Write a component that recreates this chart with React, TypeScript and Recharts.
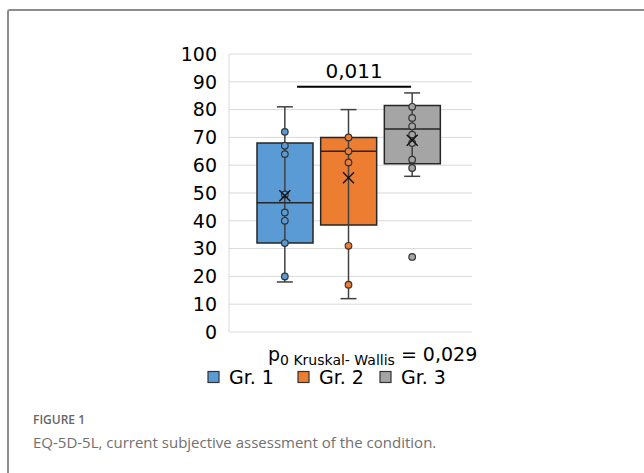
import React from 'react';
import {
  Bar,
  CartesianGrid,
  Cell,
  ComposedChart,
  ErrorBar,
  ReferenceDot,
  Scatter,
  XAxis,
  YAxis,
} from 'recharts';

// EQ-5D-5L box plot, three groups
const groups = ['Gr. 1', 'Gr. 2', 'Gr. 3'];
const colors = ['#5b9bd5', '#ed7d31', '#a5a5a5'];
const whiskerLow = [18, 12, 56];
const q1 = [32, 38.5, 60.5];
const median = [46.5, 65, 73];
const q3 = [68, 70, 81.5];
const whiskerHigh = [81, 80, 86];
const means = [49, 55.5, 69];
const gr1Points = [72, 67, 64, 49.5, 43, 40, 32, 20];
const gr2Points = [70, 65, 61, 31, 17];
const gr3Points = [81, 77, 74, 71, 68, 62, 59, 27];
const yTicks = [0, 10, 20, 30, 40, 50, 60, 70, 80, 90, 100];
// significance bracket between Gr. 1 and Gr. 3 (x in group units, 1 = Gr. 1 centre)
const bracketX = [1.192, 2.982];
const bracketValue = 88.2;
const bracketLabel = '0,011';

const font = '"DejaVu Sans", Arial, sans-serif';
const ink = '#262626';

const rows = groups.map((g, i) => ({
  g,
  box: [q1[i], q3[i]],
  med: median[i],
  mean: means[i],
  whisk: [median[i] - whiskerLow[i], whiskerHigh[i] - median[i]],
}));

const pointSets = [gr1Points, gr2Points, gr3Points].map((pts, i) =>
  pts.map((v) => ({ g: groups[i], v })),
);

const bracket = bracketX.map((x) => ({ x, y: bracketValue }));

const MedianLine = (props: any) => {
  const { cx, cy } = props;
  return <line x1={cx - 28} x2={cx + 28} y1={cy} y2={cy} stroke={ink} strokeWidth={1.5} />;
};

const MeanCross = (props: any) => {
  const { cx, cy } = props;
  const s = 5.5;
  return (
    <g stroke="#111" strokeWidth={1.4}>
      <line x1={cx - s} y1={cy - s} x2={cx + s} y2={cy + s} />
      <line x1={cx - s} y1={cy + s} x2={cx + s} y2={cy - s} />
    </g>
  );
};

const Hidden = () => <g />;

const legendX = [208, 298, 380];

const App = () => (
  <div style={{ position: 'relative', width: 644, height: 473, overflow: 'hidden', background: '#fff' }}>
    <style>{'body{margin:0}'}</style>
    <div
      style={{
        position: 'absolute',
        left: 7,
        top: 9,
        width: 700,
        height: 500,
        borderTop: '2px solid #8c8c8c',
        borderLeft: '2px solid #8c8c8c',
        borderTopLeftRadius: 3,
      }}
    />
    <div style={{ position: 'absolute', left: 0, top: 0 }}>
      <ComposedChart
        width={644}
        height={473}
        data={rows}
        margin={{ top: 54, right: 172, bottom: 141, left: 169 }}
      >
        <CartesianGrid vertical={false} stroke="#d9d9d9" />
        <XAxis
          dataKey="g"
          type="category"
          allowDuplicatedCategory={false}
          padding={{ left: 24, right: 28 }}
          hide
        />
        <XAxis xAxisId="num" dataKey="x" type="number" domain={[0.1236, 3.939]} allowDataOverflow hide />
        <YAxis
          domain={[0, 100]}
          ticks={yTicks}
          interval={0}
          width={60}
          tickLine={false}
          tickMargin={6}
          axisLine={{ stroke: '#d9d9d9' }}
          tick={{ fontSize: 19, fontFamily: font, fill: '#000' }}
        />
        <Scatter dataKey="med" shape={<Hidden />} isAnimationActive={false}>
          <ErrorBar dataKey="whisk" direction="y" width={8} stroke="#404040" strokeWidth={1.5} />
        </Scatter>
        <Bar dataKey="box" barSize={56} stroke={ink} strokeWidth={1.5} isAnimationActive={false}>
          {rows.map((r, i) => (
            <Cell key={r.g} fill={colors[i]} />
          ))}
        </Bar>
        <Scatter dataKey="med" shape={<MedianLine />} isAnimationActive={false} />
        {pointSets.map((pts, i) => (
          <Scatter
            key={groups[i]}
            data={pts}
            dataKey="v"
            fill={colors[i]}
            shape={(p: any) => (
              <circle cx={p.cx} cy={p.cy} r={3.3} fill={colors[i]} stroke="#333" strokeWidth={1.2} />
            )}
            isAnimationActive={false}
          />
        ))}
        <Scatter dataKey="mean" shape={<MeanCross />} isAnimationActive={false} />
        <Scatter
          xAxisId="num"
          data={bracket}
          dataKey="y"
          line={{ stroke: '#000', strokeWidth: 2 }}
          shape={<Hidden />}
          isAnimationActive={false}
        />
        <ReferenceDot
          xAxisId="num"
          x={(bracketX[0] + bracketX[1]) / 2}
          y={bracketValue}
          r={0}
          fill="none"
          stroke="none"
          label={{ value: bracketLabel, position: 'top', offset: 9, fill: '#000', fontSize: 20, fontFamily: font }}
        />
      </ComposedChart>
    </div>
    <svg width={644} height={473} style={{ position: 'absolute', left: 0, top: 0, pointerEvents: 'none' }}>
      <text x={268} y={361} fontSize={19} fontFamily={font} fill="#000">
        p
        <tspan fontSize={14} dy={4}>0 Kruskal- Wallis</tspan>
        <tspan fontSize={19} dy={-4}> = 0,029</tspan>
      </text>
      {groups.map((g, i) => (
        <g key={g}>
          <rect x={legendX[i]} y={371.5} width={11} height={11} fill={colors[i]} stroke="#333" strokeWidth={1.2} />
          <text x={legendX[i] + 21} y={384} fontSize={19} fontFamily={font} fill="#000">
            {g}
          </text>
        </g>
      ))}
      <text x={33} y={424} fontSize={12} fontWeight={600} fontFamily='"Open Sans", sans-serif' fill="#666">
        FIGURE 1
      </text>
      <text x={33} y={447.5} fontSize={15} fontFamily='"Open Sans", sans-serif' fill="#707070">
        EQ-5D-5L, current subjective assessment of the condition.
      </text>
    </svg>
  </div>
);

export default App;
